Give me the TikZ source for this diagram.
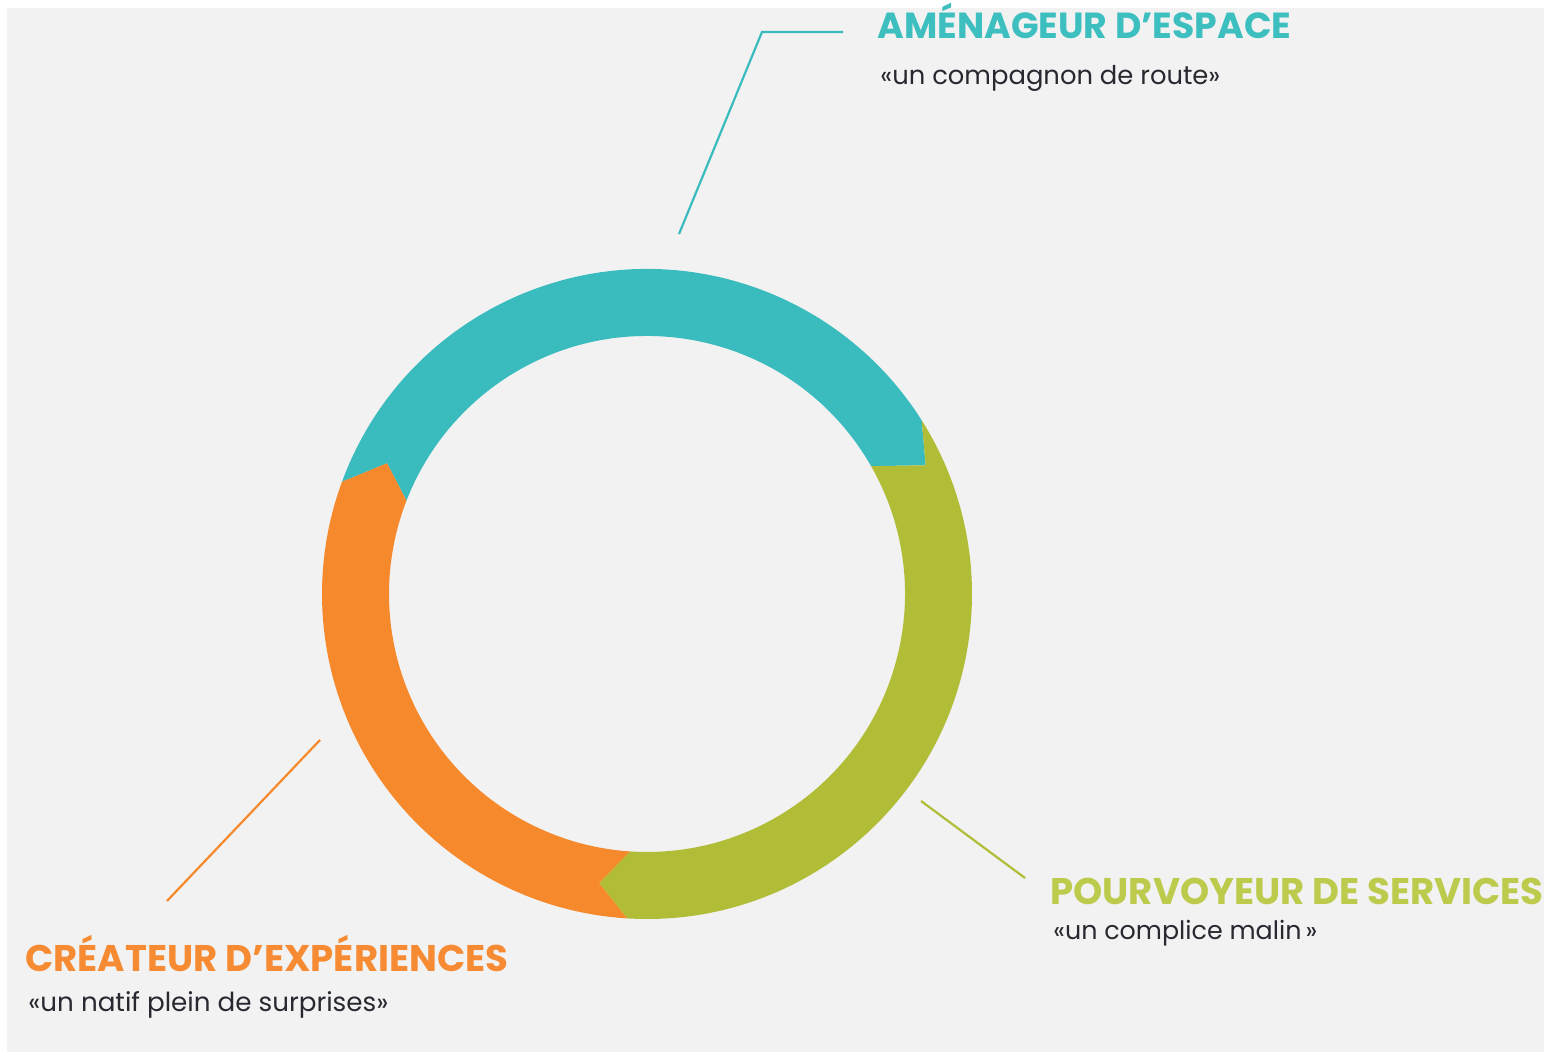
\documentclass[tikz,border=0pt]{standalone}
\usepackage{fontspec}
\setmainfont{Poppins}
\usepackage{graphicx}
\definecolor{cTeal}{HTML}{3ABBBE}
\definecolor{cGreen}{HTML}{B1BD37}
\definecolor{cOrange}{HTML}{F6892C}
\definecolor{cTealT}{HTML}{3DBEBF}
\definecolor{cGreenT}{HTML}{BCCB4C}
\definecolor{cOrangeT}{HTML}{F68B33}
\definecolor{cBg}{HTML}{F2F2F2}
\definecolor{cSub}{HTML}{2B2730}
\newcommand\fitw[2]{\resizebox{#1pt}{!}{#2}}
\tikzset{
  ttl/.style={anchor=base west, inner sep=0pt, font=\bfseries},
  sub/.style={anchor=base west, inner sep=0pt, text=cSub},
  leader/.style={line width=1.1pt},
}
\begin{document}
\begin{tikzpicture}[x=0.5pt,y=0.5pt]
\useasboundingbox (0,0) rectangle (1544,1055);
\fill[white] (0,0) rectangle (1544,1055);
\fill[cBg] (7,3) rectangle (1544,1047);
\begin{scope}[shift={(647,461)}]
\fill[cTeal] (159.8:325) arc[start angle=159.8,end angle=32.3,radius=325]
  -- (24.8:307) -- (29.7:258) arc[start angle=29.7,end angle=158.8,radius=258]
  -- (153.3:291) -- cycle;
\fill[cGreen] (32.3:325) -- (24.8:307) -- (29.7:258)
  arc[start angle=29.7,end angle=-93.8,radius=258]
  -- (-99.4:293) -- (-93.5:325) arc[start angle=-93.5,end angle=32.3,radius=325] -- cycle;
\fill[cOrange] (-93.5:325) -- (-99.4:293) -- (-93.8:258)
  arc[start angle=-93.8,end angle=-201.2,radius=258]
  -- (-206.7:291) -- (-200.2:325) arc[start angle=-200.2,end angle=-93.5,radius=325] -- cycle;
\end{scope}
% leaders
\coordinate (tA) at (679,821); \coordinate (tB) at (762,1023); \coordinate (tC) at (843,1023);
\coordinate (oA) at (320,315); \coordinate (oB) at (167,154);
\coordinate (gA) at (921,254); \coordinate (gB) at (1025,177);
\draw[leader, cTeal] (tA) -- (tB) -- (tC);
\draw[leader, cOrange] (oA) -- (oB);
\draw[leader, cGreen] (gA) -- (gB);
% labels
\node[ttl, text=cTealT] (t1) at (877,1016) {\fitw{207}{AMÉNAGEUR D’ESPACE}};
\node[sub] (s1) at (880,970) {\fitw{170}{«un compagnon de route»}};
\node[ttl, text=cGreenT] (t2) at (1050,150) {\fitw{246.5}{POURVOYEUR DE SERVICES}};
\node[sub] (s2) at (1053,115) {\fitw{132}{«un complice malin\,»}};
\node[ttl, text=cOrangeT] (t3) at (25,83) {\fitw{241.5}{CRÉATEUR D’EXPÉRIENCES}};
\node[sub] (s3) at (28,43) {\fitw{180}{«un natif plein de surprises»}};
\end{tikzpicture}
\end{document}
